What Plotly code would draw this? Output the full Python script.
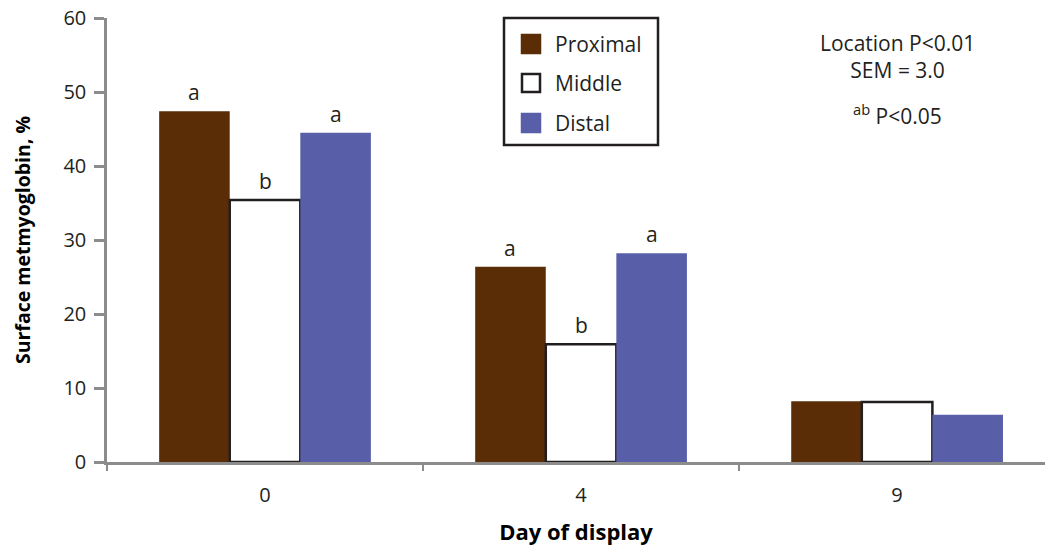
import plotly.graph_objects as go

days = ["0", "4", "9"]
proximal = [47.4, 26.4, 8.2]
middle = [35.4, 15.9, 8.1]
distal = [44.5, 28.2, 6.4]
proximal_letters = ["a", "a", ""]
middle_letters = ["b", "b", ""]
distal_letters = ["a", "a", ""]

FONT = "Open Sans"
BROWN = "#5a2d06"
BLUE = "#585fa8"
EDGE = "#231f20"
AXIS = "#8c8c8c"

BARGAP = 0.33
X_RANGE = [-0.5, 2.468]

fig = go.Figure()
series = [
    ("Proximal", proximal, BROWN, BROWN, 0, proximal_letters),
    ("Middle", middle, "white", EDGE, 2.5, middle_letters),
    ("Distal", distal, BLUE, BLUE, 0, distal_letters),
]
for name, vals, fill, line, lw, letters in series:
    fig.add_trace(go.Bar(
        name=name, x=days, y=vals,
        marker=dict(color=fill, line=dict(color=line, width=lw)),
        showlegend=False,
    ))

fig.update_layout(
    width=1045, height=548,
    margin=dict(l=107, r=0, t=18, b=86),
    paper_bgcolor="white", plot_bgcolor="white",
    barmode="group", bargap=BARGAP, bargroupgap=0.0,
    font=dict(family=FONT, size=20, color="#231f20"),
)

fig.update_yaxes(
    range=[0, 60], tickvals=[0, 10, 20, 30, 40, 50, 60],
    showgrid=False, zeroline=False,
    showline=True, linecolor=AXIS, linewidth=2.5,
    ticks="outside", ticklen=10, tickwidth=2.5, tickcolor=AXIS,
    ticklabelstandoff=4,
    tickfont=dict(family=FONT, size=20, color="#231f20"),
    title=dict(text="<b>Surface metmyoglobin, %</b>", standoff=28,
               font=dict(family=FONT, size=19.5, color="#000000")),
)
fig.update_xaxes(
    type="category", range=X_RANGE,
    showgrid=False, showline=True, linecolor=AXIS, linewidth=2.5,
    ticks="outside", tickson="boundaries", ticklen=6, tickwidth=2, tickcolor=AXIS,
    ticklabelstandoff=13,
    tickfont=dict(family=FONT, size=20, color="#231f20"),
    title=dict(text="<b>Day of display</b>", standoff=18,
               font=dict(family=FONT, size=22, color="#000000")),
)

# Legend box and stat notes placed in paper coordinates from pixel positions
L, T, PW, PH = 107, 18, 1045 - 107, 548 - 18 - 86


def px(x):
    return (x - L) / PW


def py(y):
    return 1 - (y - T) / PH


# significance letters above each bar, shifted by the grouped-bar offset
cat_px = PW / (X_RANGE[1] - X_RANGE[0])
bar_px = cat_px * (1 - BARGAP) / len(series)
annotations = []
for k, (name, vals, fill, line, lw, letters) in enumerate(series):
    for i, (v, letter) in enumerate(zip(vals, letters)):
        if letter:
            annotations.append(dict(
                x=i, y=v, xref="x", yref="y", text=letter, showarrow=False,
                xanchor="center", yanchor="middle",
                xshift=(k - 1) * bar_px, yshift=19,
                font=dict(family=FONT, size=21, color="#231f20")))

shapes = [dict(type="rect", xref="paper", yref="paper",
               x0=px(504), x1=px(658), y0=py(145), y1=py(18),
               line=dict(color=EDGE, width=2.5), fillcolor="rgba(0,0,0,0)")]
legend_rows = [("Proximal", BROWN, BROWN, 44), ("Middle", "white", EDGE, 83), ("Distal", BLUE, BLUE, 123)]
for label, fill, line, yc in legend_rows:
    shapes.append(dict(type="rect", xref="paper", yref="paper",
                       x0=px(522), x1=px(540), y0=py(yc + 9), y1=py(yc - 9),
                       line=dict(color=line, width=2.5), fillcolor=fill))
    annotations.append(dict(text=label, xref="paper", yref="paper",
                            x=px(553), y=py(yc), xanchor="left", yanchor="middle",
                            showarrow=False, font=dict(family=FONT, size=21, color="#231f20")))

annotations += [
    dict(text="Location P<0.01<br>SEM = 3.0", xref="paper", yref="paper",
         x=px(897), y=py(57), xanchor="center", yanchor="middle", showarrow=False,
         font=dict(family=FONT, size=21, color="#231f20")),
    dict(text="<sup>ab</sup> P<0.05", xref="paper", yref="paper",
         x=px(897), y=py(114), xanchor="center", yanchor="middle", showarrow=False,
         font=dict(family=FONT, size=21, color="#231f20")),
]
fig.update_layout(shapes=shapes, annotations=annotations)

fig.write_html("out.html")
